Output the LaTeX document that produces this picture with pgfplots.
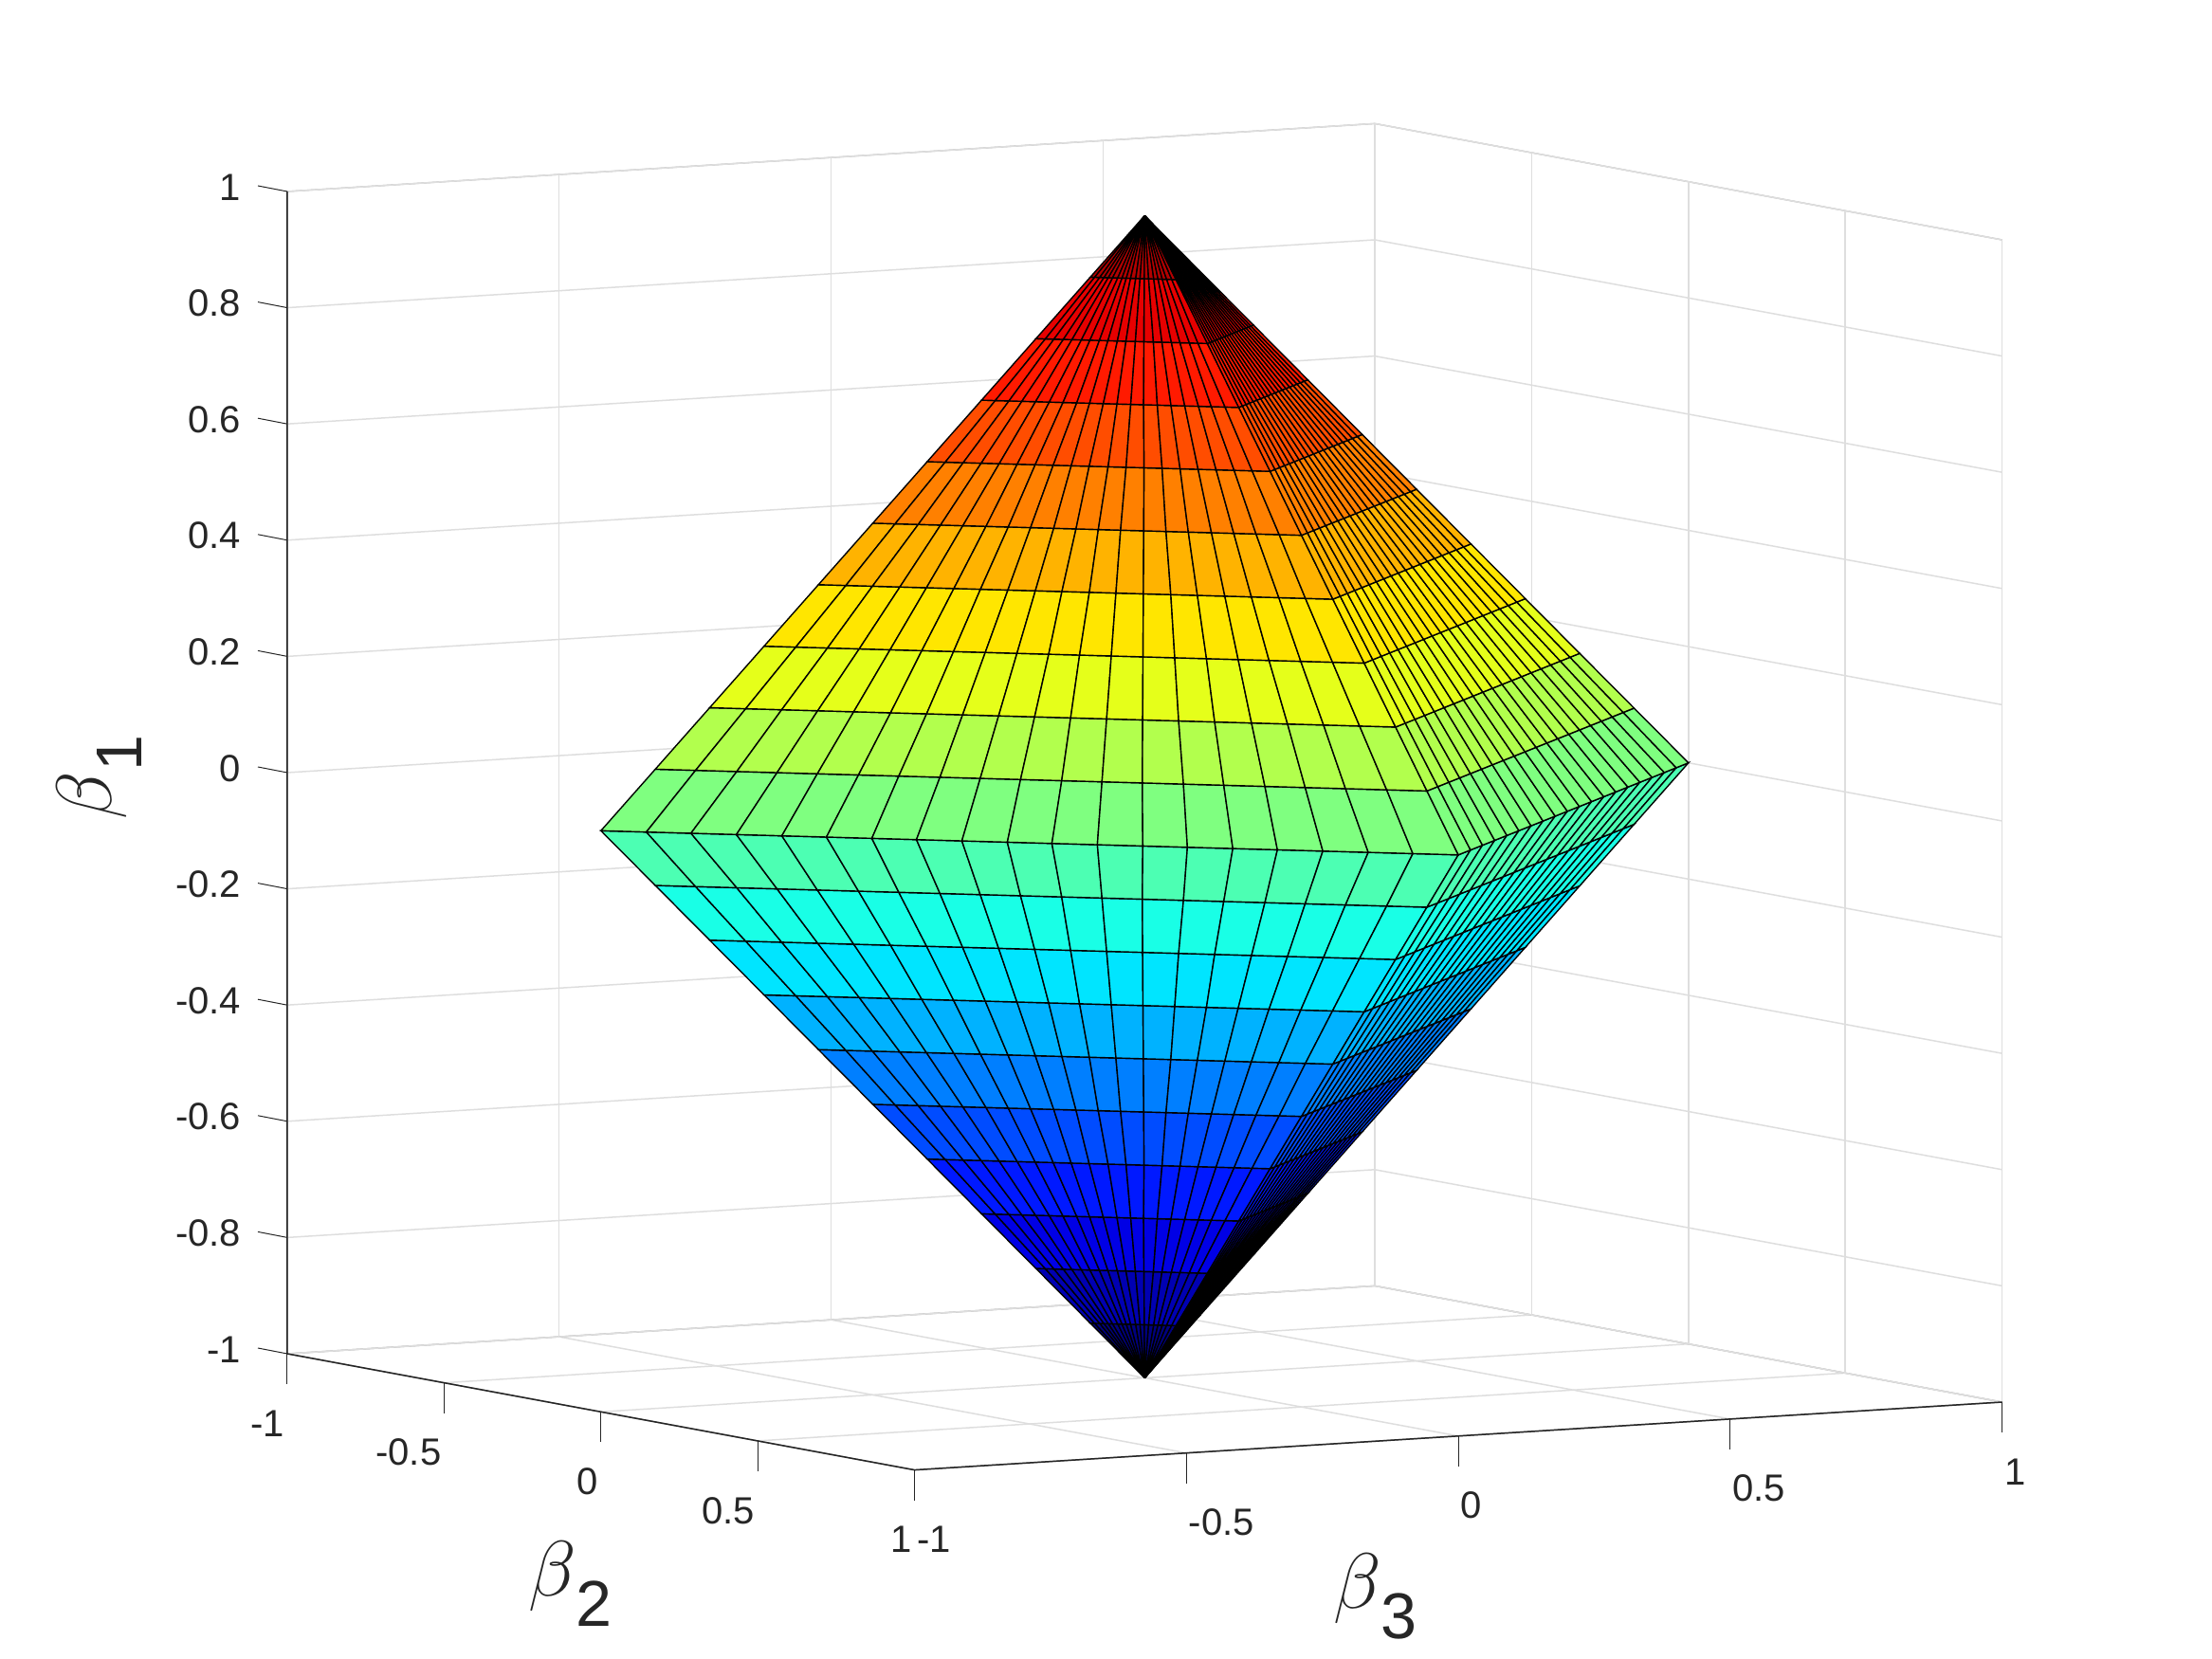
\documentclass[border=0pt]{standalone}
\usepackage{pgfplots}
\pgfplotsset{compat=1.18}
\usepackage{fontspec}
\setmainfont{Liberation Sans}
\newcommand{\blab}[1]{{\fontsize{25}{25}\selectfont$\beta$}\raisebox{-9.5pt}{\fontsize{20.5}{20.5}\selectfont #1}}
\definecolor{axdark}{gray}{0.15}
\begin{document}
\begin{tikzpicture}
\useasboundingbox (0,0) rectangle (699.9pt,525pt);
\begin{axis}[
  at={(362.19pt,272.85pt)},anchor=origin,
  x={(99.24pt,-18.39pt)},y={(172.05pt,10.74pt)},z={(0pt,183.9pt)},
  xmin=-1,xmax=1,ymin=-1,ymax=1,zmin=-1,zmax=1,
  xtick={-1,-0.5,0,0.5,1},ytick={-1,-0.5,0,0.5,1},ztick={-1,-0.8,-0.6,-0.4,-0.2,0,0.2,0.4,0.6,0.8,1},
  xticklabels={-1,-0.5,0,0.5,1},yticklabels={-1,-0.5,0,0.5,1},zticklabels={-1,-0.8,-0.6,-0.4,-0.2,0,0.2,0.4,0.6,0.8,1},
  /pgf/number format/assume math mode=true,
  tick label style={font=\fontsize{12}{12}\selectfont,color=axdark},
  major tick length=0pt,
  grid=major,grid style={line width=.45pt,black!13},
  axis line style={line width=.4pt,black!32},
  xticklabel style={anchor=east,xshift=2.6pt,yshift=-22pt},
  yticklabel style={anchor=west,xshift=-2.8pt,yshift=-22pt},
  zticklabel style={anchor=east,xshift=-11.1pt,yshift=1.4pt},
  xlabel={\blab{2}},ylabel={\blab{3}},zlabel={\blab{1}},
  label style={color=axdark},
  xlabel style={at={(axis cs:1,-1,-1)},anchor=center,xshift=-109pt,yshift=-36pt,rotate=0},
  ylabel style={at={(axis cs:1,-1,-1)},anchor=center,xshift=145.8pt,yshift=-40pt,rotate=0},
  every axis z label/.style={at={(axis cs:-1,-1,-1)},anchor=center,xshift=-59.4pt,yshift=182.4pt,rotate=90,color=axdark},
  colormap={mjet}{rgb(0cm)=(0,0,.5); rgb(1cm)=(0,0,1); rgb(3cm)=(0,1,1); rgb(5cm)=(1,1,0); rgb(7cm)=(1,0,0); rgb(8cm)=(.5,0,0)},
  point meta min=-1,point meta max=1,
  clip=false,
]
\addplot3[surf,shader=flat corner,draw=black,line width=.42pt,mesh/cols=39,point meta=z] coordinates {
(0,0,-1)(0,0,-1)(0,0,-1)(0,0,-1)(0,0,-1)(0,0,-1)(0,0,-1)(0,0,-1)(0,0,-1)(0,0,-1)(0,0,-1)(0,0,-1)(0,0,-1)(0,0,-1)(0,0,-1)(0,0,-1)(0,0,-1)(0,0,-1)(0,0,-1)(0,0,-1)(0,0,-1)(0,0,-1)(0,0,-1)(0,0,-1)(0,0,-1)(0,0,-1)(0,0,-1)(0,0,-1)(0,0,-1)(0,0,-1)(0,0,-1)(0,0,-1)(0,0,-1)(0,0,-1)(0,0,-1)(0,0,-1)(0,0,-1)(0,0,-1)(0,0,-1)
(0,-.1,-.9)(.005,-.095,-.9)(.011,-.089,-.9)(.016,-.084,-.9)(.021,-.079,-.9)(.026,-.074,-.9)(.032,-.068,-.9)(.037,-.063,-.9)(.042,-.058,-.9)(.047,-.053,-.9)(.053,-.047,-.9)(.058,-.042,-.9)(.063,-.037,-.9)(.068,-.032,-.9)(.074,-.026,-.9)(.079,-.021,-.9)(.084,-.016,-.9)(.089,-.011,-.9)(.095,-.005,-.9)(.1,0,-.9)(.095,.005,-.9)(.089,.011,-.9)(.084,.016,-.9)(.079,.021,-.9)(.074,.026,-.9)(.068,.032,-.9)(.063,.037,-.9)(.058,.042,-.9)(.053,.047,-.9)(.047,.053,-.9)(.042,.058,-.9)(.037,.063,-.9)(.032,.068,-.9)(.026,.074,-.9)(.021,.079,-.9)(.016,.084,-.9)(.011,.089,-.9)(.005,.095,-.9)(0,.1,-.9)
(0,-.2,-.8)(.011,-.189,-.8)(.021,-.179,-.8)(.032,-.168,-.8)(.042,-.158,-.8)(.053,-.147,-.8)(.063,-.137,-.8)(.074,-.126,-.8)(.084,-.116,-.8)(.095,-.105,-.8)(.105,-.095,-.8)(.116,-.084,-.8)(.126,-.074,-.8)(.137,-.063,-.8)(.147,-.053,-.8)(.158,-.042,-.8)(.168,-.032,-.8)(.179,-.021,-.8)(.189,-.011,-.8)(.2,0,-.8)(.189,.011,-.8)(.179,.021,-.8)(.168,.032,-.8)(.158,.042,-.8)(.147,.053,-.8)(.137,.063,-.8)(.126,.074,-.8)(.116,.084,-.8)(.105,.095,-.8)(.095,.105,-.8)(.084,.116,-.8)(.074,.126,-.8)(.063,.137,-.8)(.053,.147,-.8)(.042,.158,-.8)(.032,.168,-.8)(.021,.179,-.8)(.011,.189,-.8)(0,.2,-.8)
(0,-.3,-.7)(.016,-.284,-.7)(.032,-.268,-.7)(.047,-.253,-.7)(.063,-.237,-.7)(.079,-.221,-.7)(.095,-.205,-.7)(.111,-.189,-.7)(.126,-.174,-.7)(.142,-.158,-.7)(.158,-.142,-.7)(.174,-.126,-.7)(.189,-.111,-.7)(.205,-.095,-.7)(.221,-.079,-.7)(.237,-.063,-.7)(.253,-.047,-.7)(.268,-.032,-.7)(.284,-.016,-.7)(.3,0,-.7)(.284,.016,-.7)(.268,.032,-.7)(.253,.047,-.7)(.237,.063,-.7)(.221,.079,-.7)(.205,.095,-.7)(.189,.111,-.7)(.174,.126,-.7)(.158,.142,-.7)(.142,.158,-.7)(.126,.174,-.7)(.111,.189,-.7)(.095,.205,-.7)(.079,.221,-.7)(.063,.237,-.7)(.047,.253,-.7)(.032,.268,-.7)(.016,.284,-.7)(0,.3,-.7)
(0,-.4,-.6)(.021,-.379,-.6)(.042,-.358,-.6)(.063,-.337,-.6)(.084,-.316,-.6)(.105,-.295,-.6)(.126,-.274,-.6)(.147,-.253,-.6)(.168,-.232,-.6)(.189,-.211,-.6)(.211,-.189,-.6)(.232,-.168,-.6)(.253,-.147,-.6)(.274,-.126,-.6)(.295,-.105,-.6)(.316,-.084,-.6)(.337,-.063,-.6)(.358,-.042,-.6)(.379,-.021,-.6)(.4,0,-.6)(.379,.021,-.6)(.358,.042,-.6)(.337,.063,-.6)(.316,.084,-.6)(.295,.105,-.6)(.274,.126,-.6)(.253,.147,-.6)(.232,.168,-.6)(.211,.189,-.6)(.189,.211,-.6)(.168,.232,-.6)(.147,.253,-.6)(.126,.274,-.6)(.105,.295,-.6)(.084,.316,-.6)(.063,.337,-.6)(.042,.358,-.6)(.021,.379,-.6)(0,.4,-.6)
(0,-.5,-.5)(.026,-.474,-.5)(.053,-.447,-.5)(.079,-.421,-.5)(.105,-.395,-.5)(.132,-.368,-.5)(.158,-.342,-.5)(.184,-.316,-.5)(.211,-.289,-.5)(.237,-.263,-.5)(.263,-.237,-.5)(.289,-.211,-.5)(.316,-.184,-.5)(.342,-.158,-.5)(.368,-.132,-.5)(.395,-.105,-.5)(.421,-.079,-.5)(.447,-.053,-.5)(.474,-.026,-.5)(.5,0,-.5)(.474,.026,-.5)(.447,.053,-.5)(.421,.079,-.5)(.395,.105,-.5)(.368,.132,-.5)(.342,.158,-.5)(.316,.184,-.5)(.289,.211,-.5)(.263,.237,-.5)(.237,.263,-.5)(.211,.289,-.5)(.184,.316,-.5)(.158,.342,-.5)(.132,.368,-.5)(.105,.395,-.5)(.079,.421,-.5)(.053,.447,-.5)(.026,.474,-.5)(0,.5,-.5)
(0,-.6,-.4)(.032,-.568,-.4)(.063,-.537,-.4)(.095,-.505,-.4)(.126,-.474,-.4)(.158,-.442,-.4)(.189,-.411,-.4)(.221,-.379,-.4)(.253,-.347,-.4)(.284,-.316,-.4)(.316,-.284,-.4)(.347,-.253,-.4)(.379,-.221,-.4)(.411,-.189,-.4)(.442,-.158,-.4)(.474,-.126,-.4)(.505,-.095,-.4)(.537,-.063,-.4)(.568,-.032,-.4)(.6,0,-.4)(.568,.032,-.4)(.537,.063,-.4)(.505,.095,-.4)(.474,.126,-.4)(.442,.158,-.4)(.411,.189,-.4)(.379,.221,-.4)(.347,.253,-.4)(.316,.284,-.4)(.284,.316,-.4)(.253,.347,-.4)(.221,.379,-.4)(.189,.411,-.4)(.158,.442,-.4)(.126,.474,-.4)(.095,.505,-.4)(.063,.537,-.4)(.032,.568,-.4)(0,.6,-.4)
(0,-.7,-.3)(.037,-.663,-.3)(.074,-.626,-.3)(.111,-.589,-.3)(.147,-.553,-.3)(.184,-.516,-.3)(.221,-.479,-.3)(.258,-.442,-.3)(.295,-.405,-.3)(.332,-.368,-.3)(.368,-.332,-.3)(.405,-.295,-.3)(.442,-.258,-.3)(.479,-.221,-.3)(.516,-.184,-.3)(.553,-.147,-.3)(.589,-.111,-.3)(.626,-.074,-.3)(.663,-.037,-.3)(.7,0,-.3)(.663,.037,-.3)(.626,.074,-.3)(.589,.111,-.3)(.553,.147,-.3)(.516,.184,-.3)(.479,.221,-.3)(.442,.258,-.3)(.405,.295,-.3)(.368,.332,-.3)(.332,.368,-.3)(.295,.405,-.3)(.258,.442,-.3)(.221,.479,-.3)(.184,.516,-.3)(.147,.553,-.3)(.111,.589,-.3)(.074,.626,-.3)(.037,.663,-.3)(0,.7,-.3)
(0,-.8,-.2)(.042,-.758,-.2)(.084,-.716,-.2)(.126,-.674,-.2)(.168,-.632,-.2)(.211,-.589,-.2)(.253,-.547,-.2)(.295,-.505,-.2)(.337,-.463,-.2)(.379,-.421,-.2)(.421,-.379,-.2)(.463,-.337,-.2)(.505,-.295,-.2)(.547,-.253,-.2)(.589,-.211,-.2)(.632,-.168,-.2)(.674,-.126,-.2)(.716,-.084,-.2)(.758,-.042,-.2)(.8,0,-.2)(.758,.042,-.2)(.716,.084,-.2)(.674,.126,-.2)(.632,.168,-.2)(.589,.211,-.2)(.547,.253,-.2)(.505,.295,-.2)(.463,.337,-.2)(.421,.379,-.2)(.379,.421,-.2)(.337,.463,-.2)(.295,.505,-.2)(.253,.547,-.2)(.211,.589,-.2)(.168,.632,-.2)(.126,.674,-.2)(.084,.716,-.2)(.042,.758,-.2)(0,.8,-.2)
(0,-.9,-.1)(.047,-.853,-.1)(.095,-.805,-.1)(.142,-.758,-.1)(.189,-.711,-.1)(.237,-.663,-.1)(.284,-.616,-.1)(.332,-.568,-.1)(.379,-.521,-.1)(.426,-.474,-.1)(.474,-.426,-.1)(.521,-.379,-.1)(.568,-.332,-.1)(.616,-.284,-.1)(.663,-.237,-.1)(.711,-.189,-.1)(.758,-.142,-.1)(.805,-.095,-.1)(.853,-.047,-.1)(.9,0,-.1)(.853,.047,-.1)(.805,.095,-.1)(.758,.142,-.1)(.711,.189,-.1)(.663,.237,-.1)(.616,.284,-.1)(.568,.332,-.1)(.521,.379,-.1)(.474,.426,-.1)(.426,.474,-.1)(.379,.521,-.1)(.332,.568,-.1)(.284,.616,-.1)(.237,.663,-.1)(.189,.711,-.1)(.142,.758,-.1)(.095,.805,-.1)(.047,.853,-.1)(0,.9,-.1)
(0,-1,0)(.053,-.947,0)(.105,-.895,0)(.158,-.842,0)(.211,-.789,0)(.263,-.737,0)(.316,-.684,0)(.368,-.632,0)(.421,-.579,0)(.474,-.526,0)(.526,-.474,0)(.579,-.421,0)(.632,-.368,0)(.684,-.316,0)(.737,-.263,0)(.789,-.211,0)(.842,-.158,0)(.895,-.105,0)(.947,-.053,0)(1,0,0)(.947,.053,0)(.895,.105,0)(.842,.158,0)(.789,.211,0)(.737,.263,0)(.684,.316,0)(.632,.368,0)(.579,.421,0)(.526,.474,0)(.474,.526,0)(.421,.579,0)(.368,.632,0)(.316,.684,0)(.263,.737,0)(.211,.789,0)(.158,.842,0)(.105,.895,0)(.053,.947,0)(0,1,0)
(0,-.9,.1)(.047,-.853,.1)(.095,-.805,.1)(.142,-.758,.1)(.189,-.711,.1)(.237,-.663,.1)(.284,-.616,.1)(.332,-.568,.1)(.379,-.521,.1)(.426,-.474,.1)(.474,-.426,.1)(.521,-.379,.1)(.568,-.332,.1)(.616,-.284,.1)(.663,-.237,.1)(.711,-.189,.1)(.758,-.142,.1)(.805,-.095,.1)(.853,-.047,.1)(.9,0,.1)(.853,.047,.1)(.805,.095,.1)(.758,.142,.1)(.711,.189,.1)(.663,.237,.1)(.616,.284,.1)(.568,.332,.1)(.521,.379,.1)(.474,.426,.1)(.426,.474,.1)(.379,.521,.1)(.332,.568,.1)(.284,.616,.1)(.237,.663,.1)(.189,.711,.1)(.142,.758,.1)(.095,.805,.1)(.047,.853,.1)(0,.9,.1)
(0,-.8,.2)(.042,-.758,.2)(.084,-.716,.2)(.126,-.674,.2)(.168,-.632,.2)(.211,-.589,.2)(.253,-.547,.2)(.295,-.505,.2)(.337,-.463,.2)(.379,-.421,.2)(.421,-.379,.2)(.463,-.337,.2)(.505,-.295,.2)(.547,-.253,.2)(.589,-.211,.2)(.632,-.168,.2)(.674,-.126,.2)(.716,-.084,.2)(.758,-.042,.2)(.8,0,.2)(.758,.042,.2)(.716,.084,.2)(.674,.126,.2)(.632,.168,.2)(.589,.211,.2)(.547,.253,.2)(.505,.295,.2)(.463,.337,.2)(.421,.379,.2)(.379,.421,.2)(.337,.463,.2)(.295,.505,.2)(.253,.547,.2)(.211,.589,.2)(.168,.632,.2)(.126,.674,.2)(.084,.716,.2)(.042,.758,.2)(0,.8,.2)
(0,-.7,.3)(.037,-.663,.3)(.074,-.626,.3)(.111,-.589,.3)(.147,-.553,.3)(.184,-.516,.3)(.221,-.479,.3)(.258,-.442,.3)(.295,-.405,.3)(.332,-.368,.3)(.368,-.332,.3)(.405,-.295,.3)(.442,-.258,.3)(.479,-.221,.3)(.516,-.184,.3)(.553,-.147,.3)(.589,-.111,.3)(.626,-.074,.3)(.663,-.037,.3)(.7,0,.3)(.663,.037,.3)(.626,.074,.3)(.589,.111,.3)(.553,.147,.3)(.516,.184,.3)(.479,.221,.3)(.442,.258,.3)(.405,.295,.3)(.368,.332,.3)(.332,.368,.3)(.295,.405,.3)(.258,.442,.3)(.221,.479,.3)(.184,.516,.3)(.147,.553,.3)(.111,.589,.3)(.074,.626,.3)(.037,.663,.3)(0,.7,.3)
(0,-.6,.4)(.032,-.568,.4)(.063,-.537,.4)(.095,-.505,.4)(.126,-.474,.4)(.158,-.442,.4)(.189,-.411,.4)(.221,-.379,.4)(.253,-.347,.4)(.284,-.316,.4)(.316,-.284,.4)(.347,-.253,.4)(.379,-.221,.4)(.411,-.189,.4)(.442,-.158,.4)(.474,-.126,.4)(.505,-.095,.4)(.537,-.063,.4)(.568,-.032,.4)(.6,0,.4)(.568,.032,.4)(.537,.063,.4)(.505,.095,.4)(.474,.126,.4)(.442,.158,.4)(.411,.189,.4)(.379,.221,.4)(.347,.253,.4)(.316,.284,.4)(.284,.316,.4)(.253,.347,.4)(.221,.379,.4)(.189,.411,.4)(.158,.442,.4)(.126,.474,.4)(.095,.505,.4)(.063,.537,.4)(.032,.568,.4)(0,.6,.4)
(0,-.5,.5)(.026,-.474,.5)(.053,-.447,.5)(.079,-.421,.5)(.105,-.395,.5)(.132,-.368,.5)(.158,-.342,.5)(.184,-.316,.5)(.211,-.289,.5)(.237,-.263,.5)(.263,-.237,.5)(.289,-.211,.5)(.316,-.184,.5)(.342,-.158,.5)(.368,-.132,.5)(.395,-.105,.5)(.421,-.079,.5)(.447,-.053,.5)(.474,-.026,.5)(.5,0,.5)(.474,.026,.5)(.447,.053,.5)(.421,.079,.5)(.395,.105,.5)(.368,.132,.5)(.342,.158,.5)(.316,.184,.5)(.289,.211,.5)(.263,.237,.5)(.237,.263,.5)(.211,.289,.5)(.184,.316,.5)(.158,.342,.5)(.132,.368,.5)(.105,.395,.5)(.079,.421,.5)(.053,.447,.5)(.026,.474,.5)(0,.5,.5)
(0,-.4,.6)(.021,-.379,.6)(.042,-.358,.6)(.063,-.337,.6)(.084,-.316,.6)(.105,-.295,.6)(.126,-.274,.6)(.147,-.253,.6)(.168,-.232,.6)(.189,-.211,.6)(.211,-.189,.6)(.232,-.168,.6)(.253,-.147,.6)(.274,-.126,.6)(.295,-.105,.6)(.316,-.084,.6)(.337,-.063,.6)(.358,-.042,.6)(.379,-.021,.6)(.4,0,.6)(.379,.021,.6)(.358,.042,.6)(.337,.063,.6)(.316,.084,.6)(.295,.105,.6)(.274,.126,.6)(.253,.147,.6)(.232,.168,.6)(.211,.189,.6)(.189,.211,.6)(.168,.232,.6)(.147,.253,.6)(.126,.274,.6)(.105,.295,.6)(.084,.316,.6)(.063,.337,.6)(.042,.358,.6)(.021,.379,.6)(0,.4,.6)
(0,-.3,.7)(.016,-.284,.7)(.032,-.268,.7)(.047,-.253,.7)(.063,-.237,.7)(.079,-.221,.7)(.095,-.205,.7)(.111,-.189,.7)(.126,-.174,.7)(.142,-.158,.7)(.158,-.142,.7)(.174,-.126,.7)(.189,-.111,.7)(.205,-.095,.7)(.221,-.079,.7)(.237,-.063,.7)(.253,-.047,.7)(.268,-.032,.7)(.284,-.016,.7)(.3,0,.7)(.284,.016,.7)(.268,.032,.7)(.253,.047,.7)(.237,.063,.7)(.221,.079,.7)(.205,.095,.7)(.189,.111,.7)(.174,.126,.7)(.158,.142,.7)(.142,.158,.7)(.126,.174,.7)(.111,.189,.7)(.095,.205,.7)(.079,.221,.7)(.063,.237,.7)(.047,.253,.7)(.032,.268,.7)(.016,.284,.7)(0,.3,.7)
(0,-.2,.8)(.011,-.189,.8)(.021,-.179,.8)(.032,-.168,.8)(.042,-.158,.8)(.053,-.147,.8)(.063,-.137,.8)(.074,-.126,.8)(.084,-.116,.8)(.095,-.105,.8)(.105,-.095,.8)(.116,-.084,.8)(.126,-.074,.8)(.137,-.063,.8)(.147,-.053,.8)(.158,-.042,.8)(.168,-.032,.8)(.179,-.021,.8)(.189,-.011,.8)(.2,0,.8)(.189,.011,.8)(.179,.021,.8)(.168,.032,.8)(.158,.042,.8)(.147,.053,.8)(.137,.063,.8)(.126,.074,.8)(.116,.084,.8)(.105,.095,.8)(.095,.105,.8)(.084,.116,.8)(.074,.126,.8)(.063,.137,.8)(.053,.147,.8)(.042,.158,.8)(.032,.168,.8)(.021,.179,.8)(.011,.189,.8)(0,.2,.8)
(0,-.1,.9)(.005,-.095,.9)(.011,-.089,.9)(.016,-.084,.9)(.021,-.079,.9)(.026,-.074,.9)(.032,-.068,.9)(.037,-.063,.9)(.042,-.058,.9)(.047,-.053,.9)(.053,-.047,.9)(.058,-.042,.9)(.063,-.037,.9)(.068,-.032,.9)(.074,-.026,.9)(.079,-.021,.9)(.084,-.016,.9)(.089,-.011,.9)(.095,-.005,.9)(.1,0,.9)(.095,.005,.9)(.089,.011,.9)(.084,.016,.9)(.079,.021,.9)(.074,.026,.9)(.068,.032,.9)(.063,.037,.9)(.058,.042,.9)(.053,.047,.9)(.047,.053,.9)(.042,.058,.9)(.037,.063,.9)(.032,.068,.9)(.026,.074,.9)(.021,.079,.9)(.016,.084,.9)(.011,.089,.9)(.005,.095,.9)(0,.1,.9)
(0,0,1)(0,0,1)(0,0,1)(0,0,1)(0,0,1)(0,0,1)(0,0,1)(0,0,1)(0,0,1)(0,0,1)(0,0,1)(0,0,1)(0,0,1)(0,0,1)(0,0,1)(0,0,1)(0,0,1)(0,0,1)(0,0,1)(0,0,1)(0,0,1)(0,0,1)(0,0,1)(0,0,1)(0,0,1)(0,0,1)(0,0,1)(0,0,1)(0,0,1)(0,0,1)(0,0,1)(0,0,1)(0,0,1)(0,0,1)(0,0,1)(0,0,1)(0,0,1)(0,0,1)(0,0,1)
};
\draw[axdark,line width=.45pt] (axis cs:-1,-1,1) -- (axis cs:-1,-1,-1) -- (axis cs:1,-1,-1) -- (axis cs:1,1,-1);
\tikzset{tk/.style={axdark,line width=.3pt}}
\draw[tk] (axis cs:-1,-1,-1) -- ++(0pt,-9.6pt);
\draw[tk] (axis cs:-.5,-1,-1) -- ++(0pt,-9.6pt);
\draw[tk] (axis cs:0,-1,-1) -- ++(0pt,-9.6pt);
\draw[tk] (axis cs:.5,-1,-1) -- ++(0pt,-9.6pt);
\draw[tk] (axis cs:1,-1,-1) -- ++(0pt,-9.6pt);
\draw[tk] (axis cs:1,-.5,-1) -- ++(0pt,-9.6pt);
\draw[tk] (axis cs:1,0,-1) -- ++(0pt,-9.6pt);
\draw[tk] (axis cs:1,.5,-1) -- ++(0pt,-9.6pt);
\draw[tk] (axis cs:1,1,-1) -- ++(0pt,-9.6pt);
\draw[tk] (axis cs:-1,-1,-1) -- ++(-9.3pt,1.8pt);
\draw[tk] (axis cs:-1,-1,-.8) -- ++(-9.3pt,1.8pt);
\draw[tk] (axis cs:-1,-1,-.6) -- ++(-9.3pt,1.8pt);
\draw[tk] (axis cs:-1,-1,-.4) -- ++(-9.3pt,1.8pt);
\draw[tk] (axis cs:-1,-1,-.2) -- ++(-9.3pt,1.8pt);
\draw[tk] (axis cs:-1,-1,0) -- ++(-9.3pt,1.8pt);
\draw[tk] (axis cs:-1,-1,.2) -- ++(-9.3pt,1.8pt);
\draw[tk] (axis cs:-1,-1,.4) -- ++(-9.3pt,1.8pt);
\draw[tk] (axis cs:-1,-1,.6) -- ++(-9.3pt,1.8pt);
\draw[tk] (axis cs:-1,-1,.8) -- ++(-9.3pt,1.8pt);
\draw[tk] (axis cs:-1,-1,1) -- ++(-9.3pt,1.8pt);
\end{axis}
\end{tikzpicture}
\end{document}
